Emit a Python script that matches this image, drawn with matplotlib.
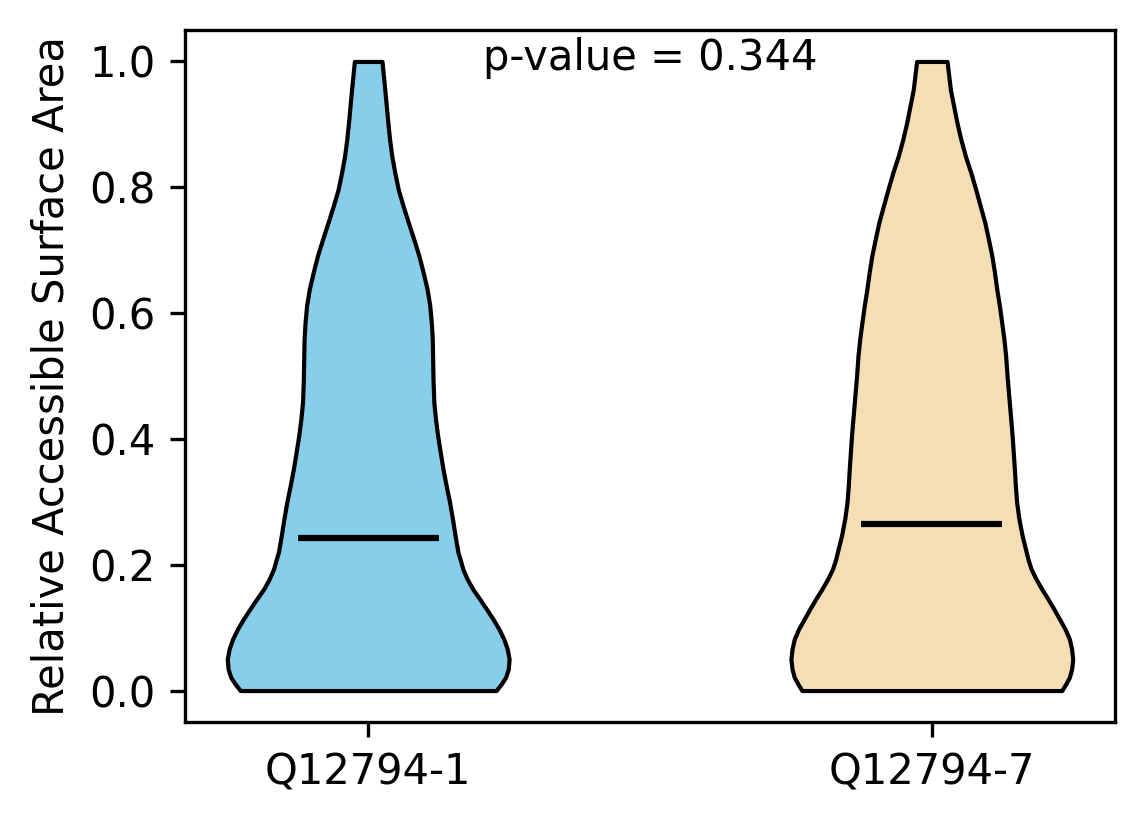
import numpy as np
import matplotlib.pyplot as plt

# grupy (izoformy)
labels = ["Q12794-1", "Q12794-7"]
kolory = ["skyblue", "wheat"]

# profil gestosci dla Q12794-1
rsa_1 = [0.000, 0.011, 0.021, 0.034, 0.050, 0.066, 0.082, 0.098, 0.114, 0.130,
         0.146, 0.161, 0.177, 0.193, 0.209, 0.220, 0.246, 0.273, 0.299, 0.325,
         0.352, 0.378, 0.405, 0.431, 0.458, 0.495, 0.558, 0.585, 0.612, 0.638,
         0.664, 0.691, 0.717, 0.744, 0.770, 0.796, 0.823, 0.849, 0.876, 0.902,
         0.955, 1.000]
gest_1 = [0.908, 0.946, 0.975, 0.994, 1.000, 0.987, 0.962, 0.927, 0.885, 0.838,
          0.790, 0.743, 0.703, 0.672, 0.652, 0.637, 0.617, 0.598, 0.578, 0.554,
          0.531, 0.512, 0.493, 0.478, 0.466, 0.460, 0.455, 0.448, 0.437, 0.418,
          0.391, 0.360, 0.324, 0.285, 0.248, 0.214, 0.189, 0.168, 0.152, 0.140,
          0.118, 0.098]

# profil gestosci dla Q12794-7
rsa_7 = [0.000, 0.011, 0.021, 0.034, 0.050, 0.066, 0.082, 0.098, 0.114, 0.130,
         0.146, 0.161, 0.177, 0.193, 0.209, 0.220, 0.246, 0.273, 0.299, 0.325,
         0.352, 0.405, 0.458, 0.500, 0.532, 0.558, 0.585, 0.611, 0.638, 0.664,
         0.691, 0.717, 0.744, 0.770, 0.796, 0.823, 0.849, 0.876, 0.902, 0.929,
         0.955, 1.000]
gest_7 = [0.922, 0.952, 0.976, 0.992, 1.000, 0.992, 0.976, 0.945, 0.905, 0.865,
          0.823, 0.781, 0.740, 0.705, 0.682, 0.670, 0.641, 0.618, 0.602, 0.593,
          0.586, 0.570, 0.550, 0.534, 0.524, 0.512, 0.496, 0.480, 0.461, 0.445,
          0.426, 0.402, 0.376, 0.344, 0.312, 0.277, 0.239, 0.206, 0.179, 0.155,
          0.132, 0.108]

# srednie
srednie = [0.242, 0.265]
p_value = 0.344

# statystyki do ax.violin
statystyki = []
for y, g, m in zip([rsa_1, rsa_7], [gest_1, gest_7], srednie):
    statystyki.append({
        "coords": np.array(y),
        "vals": np.array(g),
        "mean": m,
        "median": m,
        "min": min(y),
        "max": max(y),
    })

fig = plt.figure(figsize=(1144 / 300, 824 / 300), dpi=300)
ax = fig.add_axes([185 / 1144, 1 - 722 / 824, 930 / 1144, 692 / 824])

czesci = ax.violin(statystyki, positions=[1, 2], widths=0.5,
                   showmeans=True, showextrema=False, showmedians=False)
for body, kolor in zip(czesci["bodies"], kolory):
    body.set_facecolor(kolor)
    body.set_edgecolor("black")
    body.set_linewidth(1)
    body.set_alpha(1)
czesci["cmeans"].set_color("black")
czesci["cmeans"].set_linewidth(1.5)

ax.set_xticks([1, 2])
ax.set_xticklabels(labels)
ax.set_ylabel("Relative Accessible Surface Area")
ax.text(0.5, 0.99, "p-value = %.3f" % p_value, transform=ax.transAxes,
        ha="center", va="top")

fig.savefig("out.png", dpi=300)
